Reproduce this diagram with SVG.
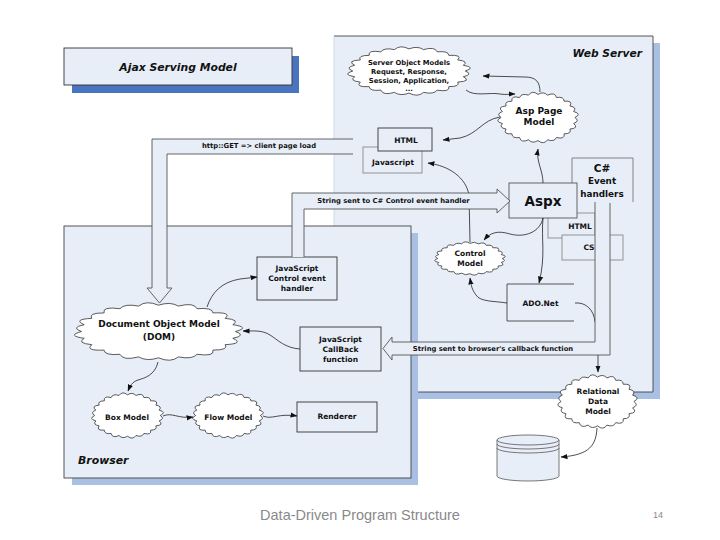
<svg xmlns="http://www.w3.org/2000/svg" width="720" height="540" viewBox="0 0 720 540">
<style>
.t{font-family:"DejaVu Sans",Verdana,sans-serif;font-weight:bold;fill:#111;text-anchor:middle}
.bi{font-family:"DejaVu Sans",Verdana,sans-serif;font-weight:bold;font-style:italic;fill:#111}
.s68{font-size:6.8px}
.s75{font-size:7.5px}
.cl{fill:#fff;stroke:#333;stroke-width:0.8}
.bx{fill:#e8eef8;stroke:#333;stroke-width:0.9}
.bxg{fill:#e8eef8;stroke:#8a8a8a;stroke-width:0.9}
.cn{fill:none;stroke:#222;stroke-width:0.8}
.ha{fill:#e8eef8;stroke:#555;stroke-width:0.9}
.ln{fill:none;stroke:#555;stroke-width:0.9}
</style>
<defs>
<path id="cloud" vector-effect="non-scaling-stroke" d="M0.95,0 Q1.0905,0.1436 0.9176,0.2459 Q1.0625,0.4401 0.8227,0.475 Q0.8727,0.6697 0.6718,0.6718 Q0.7001,0.9124 0.475,0.8227 Q0.4210,1.0163 0.2459,0.9176 Q0.1501,1.1401 0,0.95 Q-0.1436,1.0905 -0.2459,0.9176 Q-0.4401,1.0625 -0.475,0.8227 Q-0.6697,0.8727 -0.6718,0.6718 Q-0.9124,0.7001 -0.8227,0.475 Q-1.0163,0.4210 -0.9176,0.2459 Q-1.1401,0.1501 -0.95,0 Q-1.0905,-0.1436 -0.9176,-0.2459 Q-1.0625,-0.4401 -0.8227,-0.475 Q-0.8727,-0.6697 -0.6718,-0.6718 Q-0.7001,-0.9124 -0.475,-0.8227 Q-0.4210,-1.0163 -0.2459,-0.9176 Q-0.1501,-1.1401 0,-0.95 Q0.1436,-1.0905 0.2459,-0.9176 Q0.4401,-1.0625 0.475,-0.8227 Q0.6697,-0.8727 0.6718,-0.6718 Q0.9124,-0.7001 0.8227,-0.475 Q1.0163,-0.4210 0.9176,-0.2459 Q1.1401,-0.1501 0.95,0 Z"/>
<marker id="ah" markerUnits="userSpaceOnUse" markerWidth="7" markerHeight="6" refX="6.5" refY="3" orient="auto">
<path d="M0,0.4 L7,3 L0,5.6 Z" fill="#111"/>
</marker>
</defs>

<g id="title">
<rect x="72" y="56" width="227" height="37" fill="#4a74c0"/>
<rect x="64" y="48" width="228" height="37" fill="#e8eef8" stroke="#333" stroke-width="0.9"/>
<text class="bi" x="178" y="71" font-size="10.8" text-anchor="middle">Ajax Serving Model</text>
</g>

<g id="webserver">
<rect x="341" y="43" width="319" height="356" fill="#a9bfe3"/>
<rect x="334" y="36" width="319" height="356" fill="#e8eef8"/>
<path d="M334,36 H653 V392 H334" fill="none" stroke="#444" stroke-width="0.9"/>
<path d="M334,36 V392" fill="none" stroke="#c9d2e0" stroke-width="0.8"/>
<text class="bi" x="642" y="57" font-size="10.7" text-anchor="end">Web Server</text>
</g>

<g id="n-som">
<use href="#cloud" class="cl" transform="translate(409,71) scale(59.2,23.3)"/>
<text class="t s68" x="409" y="65">Server Object Models</text>
<text class="t s68" x="409" y="74">Request, Response,</text>
<text class="t s68" x="409" y="83">Session, Application,</text>
<text class="t s68" x="409" y="90.5">...</text>
</g>

<g id="n-asppage">
<use href="#cloud" class="cl" transform="translate(538,117.5) scale(38.8,24.3)"/>
<text class="t" font-size="9" x="539" y="114">Asp Page</text>
<text class="t" font-size="9" x="539" y="125">Model</text>
</g>

<g id="n-javascript">
<rect class="bxg" x="363" y="147" width="59" height="26"/>
<text class="t s75" x="393" y="164.5">Javascript</text>
</g>

<g id="n-html">
<rect class="bx" x="378" y="128" width="54" height="23"/>
<text class="t s75" x="406" y="142.6">HTML</text>
</g>

<g id="n-csharp">
<path d="M572,183 V158 H633 V202" fill="#e8eef8" stroke="#777" stroke-width="0.9"/>
<text class="t" font-size="10.5" x="602" y="171.7">C#</text>
<text class="t" font-size="8.8" x="602" y="184">Event</text>
<text class="t" font-size="8.8" x="602" y="196.5">handlers</text>
</g>

<g id="n-html2">
<rect class="bxg" x="548" y="213" width="47" height="25" stroke="#9a9a9a"/>
<text class="t s75" x="580" y="228.7">HTML</text>
</g>

<g id="n-cs">
<rect class="bxg" x="562" y="235" width="61" height="25" stroke="#9a9a9a"/>
<text class="t s75" x="589" y="250">CS</text>
</g>

<g id="n-aspx">
<rect x="509" y="183" width="68" height="35" fill="#e8eef8" stroke="#555" stroke-width="0.9"/>
<text class="t" font-size="13.5" x="543" y="206">Aspx</text>
</g>

<g id="n-control">
<use href="#cloud" class="cl" transform="translate(470,258.5) scale(34,16)"/>
<text class="t s75" x="470" y="255.7">Control</text>
<text class="t s75" x="470" y="265.7">Model</text>
</g>

<g id="n-adonet">
<path d="M574,284 H507 V321 H574" fill="#e8eef8" stroke="#444" stroke-width="0.9"/>
<text class="t s75" x="540.5" y="305.5">ADO.Net</text>
</g>

<g id="n-relational">
<use href="#cloud" class="cl" transform="translate(597.5,401.5) scale(38.3,25.7)"/>
<text class="t s75" x="598" y="393.7">Relational</text>
<text class="t s75" x="598" y="403.7">Data</text>
<text class="t s75" x="598" y="413.7">Model</text>
</g>

<g id="n-database">
<path d="M497,440 V476 A31,5 0 0 0 559,476 V440 Z" fill="#e8eef8" stroke="#555" stroke-width="0.8"/>
<ellipse cx="528" cy="440" rx="31" ry="5" fill="#e8eef8" stroke="#555" stroke-width="0.8"/>
<path d="M497,444 A31,5 0 0 0 559,444 M497,448 A31,5 0 0 0 559,448" fill="none" stroke="#555" stroke-width="0.8"/>
</g>

<g id="browser">
<rect x="72" y="233" width="346" height="252" fill="#a9bfe3"/>
<rect x="64" y="226" width="347" height="252" fill="#e8eef8" stroke="#444" stroke-width="0.9"/>
<text class="bi" x="78" y="464" font-size="10.9">Browser</text>
</g>

<g id="n-jscontrol">
<rect class="bx" x="257" y="257" width="80" height="43"/>
<text class="t s75" x="297" y="270.7">JavaScript</text>
<text class="t s75" x="297" y="280.7">Control event</text>
<text class="t s75" x="297" y="290.7">handler</text>
</g>

<g id="n-dom">
<use href="#cloud" class="cl" transform="translate(158.5,331.5) scale(81,27.7)"/>
<text class="t" font-size="9" x="159" y="327">Document Object Model</text>
<text class="t" font-size="9" x="159" y="340">(DOM)</text>
</g>

<g id="n-callback">
<rect class="bx" x="300" y="327" width="81" height="44"/>
<text class="t s75" x="340.5" y="341.7">JavaScript</text>
<text class="t s75" x="340.5" y="351.7">CallBack</text>
<text class="t s75" x="340.5" y="361.7">function</text>
</g>

<g id="n-boxmodel">
<use href="#cloud" class="cl" transform="translate(127.5,415.5) scale(34.5,21.8)"/>
<text class="t s75" x="127" y="419.7">Box Model</text>
</g>

<g id="n-flowmodel">
<use href="#cloud" class="cl" transform="translate(228,415.5) scale(34,21.8)"/>
<text class="t s75" x="228.3" y="419.7">Flow Model</text>
</g>

<g id="n-renderer">
<rect class="bx" x="297" y="402" width="80" height="30"/>
<text class="t s75" x="337" y="419.4">Renderer</text>
</g>

<g id="connectors">
<path class="cn" marker-end="url(#ah)" d="M540,92 C540,82 536,77 525,77 L483,76"/>
<path class="cn" marker-end="url(#ah)" d="M466,90 C474,97 490,92 500,94 C506,95 510,94 515,94"/>
<path class="cn" marker-end="url(#ah)" d="M500,117 C482,120 478,134 460,138 L443,140"/>
<path class="cn" marker-end="url(#ah)" d="M543,183 C543,170 536,162 538,149"/>
<path class="cn" marker-end="url(#ah)" d="M470,242 L469,195 C466,178 450,166 428,163"/>
<path class="cn" marker-end="url(#ah)" d="M543,218 C540,232 525,238 510,234 C497,230 490,233 484,240"/>
<path class="cn" marker-end="url(#ah)" d="M543,218 C541,240 546,255 539,283"/>
<path class="cn" marker-end="url(#ah)" d="M507,303 C495,301 480,302 476,295 C472,290 471,285 470,278"/>
<path class="cn" d="M575,303 C586,302 594,310 595,322"/>
<path class="cn" marker-end="url(#ah)" d="M598,355 L598,372"/>
<path class="cn" marker-end="url(#ah)" d="M597,428 C596,445 590,455 561,457"/>
<path class="cn" marker-end="url(#ah)" d="M207,307 C212,292 222,282 240,279 L257,277"/>
<path class="cn" marker-end="url(#ah)" d="M300,349 C285,348 278,340 270,335 C262,330 255,331 243,331"/>
<path class="cn" marker-end="url(#ah)" d="M158,362 C155,375 145,378 138,380 C132,382 130,386 128,391"/>
<path class="cn" marker-end="url(#ah)" d="M163,416 C172,412 178,419 193,417"/>
<path class="cn" marker-end="url(#ah)" d="M263,416 C272,420 278,413 297,416"/>

<path class="ha" d="M353,139 H152 V288 H147 L159.5,303 L172,288 H167 V154 H353"/>
<text class="t s68" x="259" y="148.4">http::GET =&gt; client page load</text>

<path class="ha" d="M292,257 V193 H497 V189 L510,201 L497,213 V209 H304 V257"/>
<text class="t s68" x="393.5" y="203.4">String sent to C# Control event handler</text>

<path class="ha" d="M595,202 V342 H392 V337 L383,348.5 L392,360 V355 H610 V203"/>
<text class="t s68" x="493" y="350.8">String sent to browser's callback function</text>
</g>

<text x="360" y="520" font-family="Liberation Sans, Arial, sans-serif" font-size="14.5" fill="#8a8a8a" text-anchor="middle">Data-Driven Program Structure</text>
<text x="658" y="518" font-family="Liberation Sans, Arial, sans-serif" font-size="9" fill="#8a8a8a" text-anchor="middle">14</text>
</svg>
